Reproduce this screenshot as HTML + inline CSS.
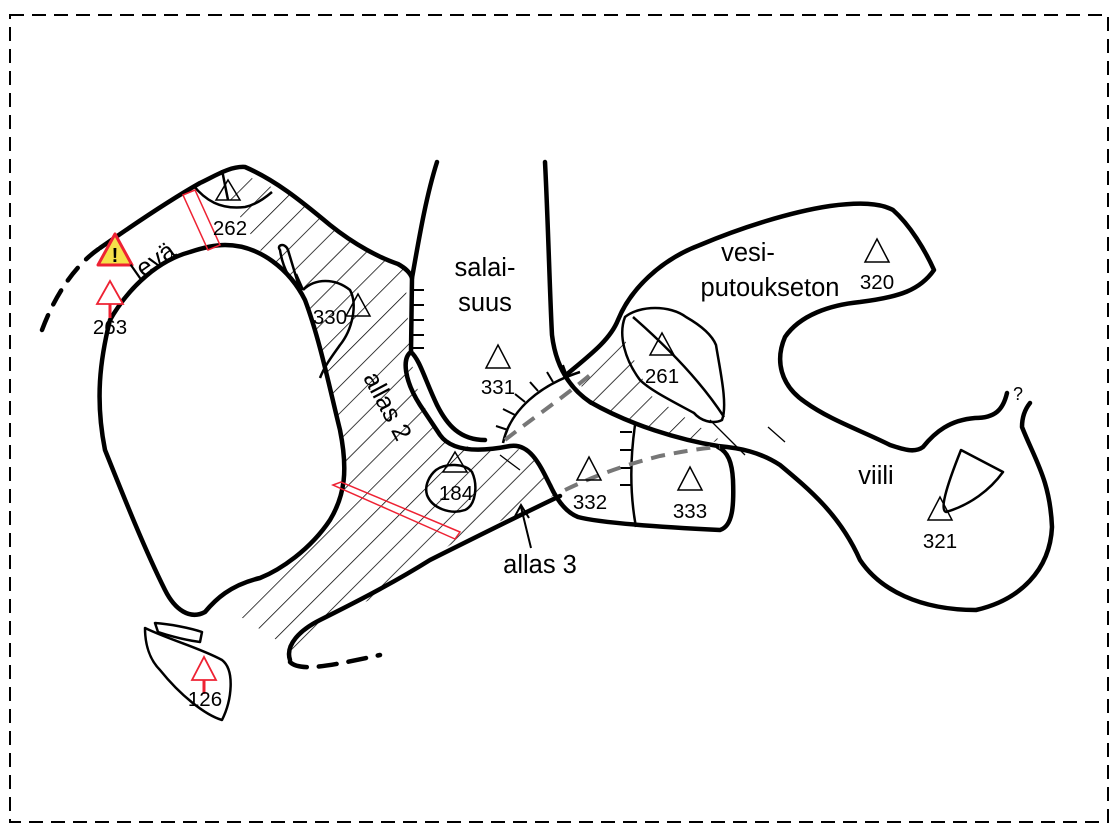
<!DOCTYPE html>
<html><head><meta charset="utf-8"><style>
html,body{margin:0;padding:0;background:#fff;}
svg{display:block;}
text{font-family:"Liberation Sans",sans-serif;fill:#000;}
.n{font-size:20.5px;}
.l{font-size:25.5px;}
</style></head><body>
<svg width="1116" height="836" viewBox="0 0 1116 836" xmlns="http://www.w3.org/2000/svg">
<defs>
<pattern id="h" width="19" height="19" patternUnits="userSpaceOnUse" patternTransform="rotate(45)">
<line x1="0" y1="0" x2="0" y2="19" stroke="#000" stroke-width="1.5"/>
</pattern>
<clipPath id="c1"><path d="M245,175 L300,200 L360,245 L405,270 L410,355 L420,400 L445,440 L480,450 L515,447 L535,460 L555,495 L450,545 L370,600 L320,620 L300,655 L230,610 L260,585 L300,555 L335,510 L345,470 L330,380 L300,290 L260,250 L230,200 Z"/></clipPath>
<clipPath id="c2"><path d="M575,372 L615,330 L625,340 L650,395 L720,440 L700,446 L640,425 L590,405 Z"/></clipPath>
</defs>
<rect x="10" y="15" width="1098" height="807" fill="none" stroke="#000" stroke-width="2" stroke-dasharray="14,8"/>
<rect x="0" y="0" width="1116" height="836" fill="url(#h)" clip-path="url(#c1)"/>
<rect x="0" y="0" width="1116" height="836" fill="url(#h)" clip-path="url(#c2)"/>
<g fill="none" stroke="#000" stroke-width="4.5" stroke-linecap="round" stroke-linejoin="round">
<path d="M42,330 C55,295 75,265 100,248" stroke-dasharray="16,12"/>
<path d="M100,248 C140,220 170,200 200,183 C215,176 230,166 245,167 C275,180 300,200 330,225 C355,245 380,258 398,264 C405,268 410,272 412,278"/>
<path d="M437,162 C425,200 418,245 412,278 L411,352"/>
<path d="M411,352 C402,358 404,380 420,405 L440,435 C452,452 480,452 510,446 C530,443 540,465 550,485 C556,498 565,512 578,517 C600,523 660,527 720,530 C733,526 734,505 733,480 C732,462 728,452 718,447"/>
<path d="M411,352 C420,360 425,380 437,405 C447,425 460,440 485,440"/>
<path d="M545,162 C548,220 550,300 552,335 C555,360 565,385 590,402 C630,425 680,440 718,446 C740,448 760,452 780,465 C810,490 840,515 860,560 C880,590 920,610 976,610 C1020,600 1050,570 1052,527 C1050,480 1035,460 1022,427 C1022,415 1026,408 1030,403"/>
<path d="M566,375 C590,355 610,340 618,320 C630,290 660,260 700,245 C740,228 790,212 830,206 C860,202 880,203 893,210 C910,225 925,250 934,270 C920,290 900,297 860,302 C830,305 800,315 785,337 C775,360 780,385 805,402 C830,420 860,430 890,445 C905,450 915,453 923,447 C935,432 950,420 975,418 C995,418 1003,410 1007,393"/>
<path d="M225,245 C260,245 290,270 305,300 C320,340 330,390 340,430 C348,470 345,495 330,520 C310,550 280,570 260,578 C230,585 215,600 205,612 C190,620 175,610 165,590 C145,550 125,500 105,450 C95,400 100,360 110,320 C130,285 160,260 190,252 C205,247 215,245 225,245 Z"/>
<path d="M290,660 C285,645 300,630 320,620 C350,605 390,585 430,560 C470,540 520,515 560,496"/>
<path d="M290,662 C300,672 330,666 380,655" stroke-dasharray="18,12"/>
</g>
<g fill="none" stroke="#000" stroke-width="2.5" stroke-linejoin="round">
<path d="M193,185 C205,200 220,210 245,207 C255,205 265,198 272,192"/>
<path d="M222,170 L228,200"/>
<path d="M303,290 C315,278 335,278 350,290 C358,305 352,330 340,345 C333,355 325,365 320,378"/>
<path d="M280,250 C276,245 285,242 288,250 L300,290 C292,283 283,270 280,250 Z"/>
<path d="M296,274 L303,290"/>
<path d="M436,470 C445,463 465,463 472,472 C478,485 476,505 465,510 C450,515 432,508 427,495 C424,485 430,475 436,470 Z"/>
<path d="M503,443 C510,410 540,385 580,372"/>
<path d="M635,425 C630,460 630,495 636,527"/>
<path d="M625,317 C640,305 670,305 686,317 C700,325 712,335 716,345 C720,370 728,405 722,420 C712,425 700,420 694,413 C670,400 650,390 640,380 C625,360 618,335 625,317 Z"/>
<path d="M633,317 C665,345 700,380 724,417"/>
<path d="M961,450 L1003,472 C990,490 970,505 946,512 C940,510 945,490 961,450 Z"/>
<path d="M145,628 C170,640 200,648 222,660 C235,670 232,700 222,720 C205,715 180,695 160,670 C150,660 145,645 145,628 Z"/>
<path d="M155,623 C170,624 190,628 202,632 L200,642 C185,640 170,636 158,632 Z"/>
<path d="M768,427 L785,442 M500,455 L520,470 M710,420 L745,455" stroke-width="1.3"/>
</g>
<g stroke="#000" stroke-width="2">
<path d="M412,290 h12 M412,305 h12 M412,320 h12 M412,335 h12 M412,348 h12"/>
<path d="M508,430 l-12,-4 M515,415 l-12,-6 M525,402 l-10,-8 M538,391 l-8,-9 M553,382 l-6,-10 M567,376 l-4,-11"/>
<path d="M632,432 h-12 M632,450 h-12 M632,468 h-12 M632,485 h-12"/>
</g>
<g fill="none" stroke="#777" stroke-width="4" stroke-dasharray="14,9">
<path d="M505,440 C530,420 560,400 590,375"/>
<path d="M565,490 C590,478 620,466 660,456 C690,450 705,448 720,447"/>
</g>
<g fill="none" stroke="#e23" stroke-width="1.5">
<path d="M183,195 L195,190 L220,245 L208,250 Z"/>
<path d="M333,485 L341,482 L460,532 L455,539 Z"/>
</g>
<g fill="none" stroke="#000" stroke-width="1.5">
<path d="M216,200 L228,180 L240,200 Z"/>
<path d="M346,316 L358,294 L370,316 Z"/>
<path d="M486,368 L498,345 L510,368 Z"/>
<path d="M443,472 L455,452 L467,472 Z"/>
<path d="M577,480 L589,457 L601,480 Z"/>
<path d="M678,490 L690,467 L702,490 Z"/>
<path d="M650,355 L662,333 L674,355 Z"/>
<path d="M865,262 L877,239 L889,262 Z"/>
<path d="M928,520 L940,497 L952,520 Z"/>
</g>
<g fill="#fff" stroke="#e23" stroke-width="1.8">
<path d="M97,304 L110,281 L123,304 Z"/>
<path d="M192,680 L204,657 L216,680 Z"/>
</g>
<path d="M110,304 v14 M204,680 v14" stroke="#e23" stroke-width="3"/>
<path d="M98,265 L115,234 L132,265 Z" fill="#f5e04a" stroke="#e23" stroke-width="3" stroke-linejoin="round"/>
<text x="115" y="262" font-size="20" font-weight="bold" text-anchor="middle">!</text>
<path d="M531,548 L521,507 M513,520 L521,505 L529,518" fill="none" stroke="#000" stroke-width="2"/>
<g class="n" text-anchor="middle">
<text x="230" y="235">262</text>
<text x="330" y="324">330</text>
<text x="498" y="394">331</text>
<text x="456" y="500">184</text>
<text x="590" y="509">332</text>
<text x="690" y="518">333</text>
<text x="662" y="383">261</text>
<text x="877" y="289">320</text>
<text x="940" y="548">321</text>
<text x="110" y="334">263</text>
<text x="205" y="706">126</text>
<text x="1018" y="400" font-size="18">?</text>
</g>
<g class="l" text-anchor="middle">
<text x="485" y="276">salai-</text>
<text x="485" y="311">suus</text>
<text x="748" y="261">vesi-</text>
<text x="770" y="296">putoukseton</text>
<text x="876" y="484">viili</text>
<text x="540" y="573">allas 3</text>
<text transform="translate(380,410) rotate(62)">allas 2</text>
<text transform="translate(158,268) rotate(-35)">levä</text>
</g>
</svg>
</body></html>
